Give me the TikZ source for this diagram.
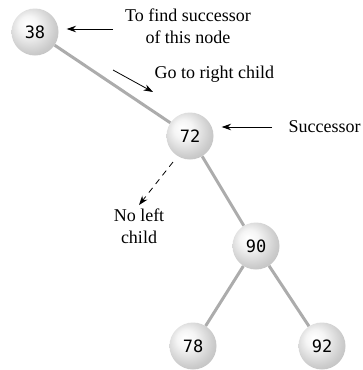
\documentclass[tikz,border=0pt]{standalone}
\usepackage{fontspec}
\setmainfont{Liberation Serif}
\newfontfamily\keyfont{DejaVu Sans Mono}
\usetikzlibrary{arrows.meta}
\pgfdeclareradialshading{pearl}{\pgfpoint{-9bp}{9bp}}{color(0bp)=(white); color(10bp)=(white!92!gray); color(26bp)=(gray!40); color(36bp)=(gray!55); color(50bp)=(gray!60)}

\begin{document}
\begin{tikzpicture}[x=1pt,y=-1pt,>={Stealth[length=3.3mm,width=2.3mm]},font=\fontsize{18}{22}\selectfont,
  keynode/.style={circle,minimum size=47pt,inner sep=0pt,shading=pearl,font=\keyfont\fontsize{17}{17}\selectfont},
  link/.style={draw=gray!65,line width=3pt},
  pointer/.style={->,thick,shorten >=8pt}]
\useasboundingbox (0,0) rectangle (362,370);
% tree
\node[keynode] (n38) at (35,32) {38};
\node[keynode] (n72) at (190,136) {72};
\node[keynode] (n90) at (256,246) {90};
\node[keynode] (n78) at (193,346) {78};
\node[keynode] (n92) at (322,346) {92};
\draw[link] (n38) -- (n72);
\draw[link] (n72) -- (n90);
\draw[link] (n90) -- (n78);
\draw[link] (n90) -- (n92);
% notes
\node[align=center] (find) at (188,26) {To find successor\\of this node};
\node[anchor=west] (right) at (151,74) {Go to right child};
\node[anchor=west] (succ) at (285,127) {Successor};
\node[align=center] (noleft) at (139,226) {No left\\child};
\coordinate (c0) at (113,29);
\coordinate (c1) at (113,70);
\coordinate (c2) at (153,92);
\coordinate (c3) at (173,162);
\coordinate (c4) at (272,127);
\draw[pointer] (c0) -- (n38.east |- c0);
\draw[pointer,shorten >=0pt] (c1) -- (c2);
\draw[pointer] (c4) -- (n72.east |- c4);
\draw[pointer,dash pattern=on 6pt off 5pt,shorten >=0pt] (c3) -- (noleft.north);
\end{tikzpicture}
\end{document}
